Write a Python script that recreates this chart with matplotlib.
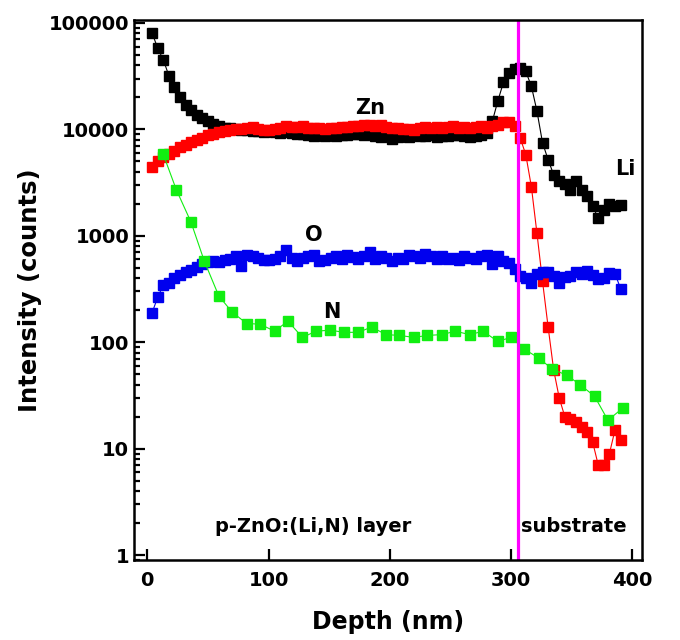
import matplotlib
matplotlib.use('Agg')
import matplotlib.pyplot as plt
from matplotlib.ticker import FixedLocator, LogLocator, NullFormatter, FuncFormatter

# depth grid of the Li, Zn, O profiles (nm)
depth = [4.0, 8.6, 13.2, 17.8, 22.4, 27.0, 31.6, 36.2, 40.8, 45.4,
         50.0, 54.6, 59.2, 63.8, 68.4, 73.0, 77.6, 82.2, 86.8, 91.4,
         96.0, 100.6, 105.2, 109.8, 114.4, 119.0, 123.6, 128.2, 132.8, 137.4,
         142.0, 146.6, 151.2, 155.8, 160.4, 165.0, 169.6, 174.2, 178.8, 183.4,
         188.0, 192.6, 197.2, 201.8, 206.4, 211.0, 215.6, 220.2, 224.8, 229.4,
         234.0, 238.6, 243.2, 247.8, 252.4, 257.0, 261.6, 266.2, 270.8, 275.4,
         280.0, 284.6, 289.2, 293.8, 298.4, 303.0, 307.6, 312.2, 316.8, 321.4,
         326.0, 330.6, 335.2, 339.8, 344.4, 349.0, 353.6, 358.2, 362.8, 367.4,
         372.0, 376.6, 381.2, 385.8, 390.4]

li = [80000, 58000, 45000, 32000, 25000, 20000, 17000, 15200, 13800, 12800,
      11900, 11200, 10800, 10400, 10200, 10000, 9900, 9800, 9700, 9600,
      9500, 9700, 9400, 9300, 9500, 9200, 9000, 9100, 8800, 8600,
      8900, 8700, 8800, 8600, 8900, 8800, 9000, 9100, 8800, 9000,
      8700, 8500, 8600, 8200, 8400, 8700, 8500, 8800, 8600, 8700,
      8900, 8500, 8700, 8600, 8800, 8900, 8700, 8500, 8700, 8900,
      9200, 11900, 18600, 27700, 33700, 36600, 37900, 35000, 25500, 14900,
      7500, 5200, 3750, 3300, 3060, 2700, 3300, 2700, 2350, 1900,
      1460, 1730, 1980, 1900, 1950]

zn = [4400, 5000, 5500, 5900, 6300, 6800, 7200, 7600, 7900, 8300,
      8800, 9100, 9400, 9600, 9800, 10000, 10100, 10200, 10500, 10100,
      9800, 9900, 10100, 10400, 10700, 10600, 10500, 10700, 10400, 10200,
      10300, 10000, 10200, 10400, 10600, 10500, 10800, 10700, 10900, 11000,
      10800, 10900, 10600, 10400, 10200, 10000, 10100, 9900, 10300, 10600,
      10400, 10500, 10300, 10500, 10700, 10400, 10600, 10300, 10500, 10700,
      10400, 10800, 11000, 11800, 11700, 10800, 8300, 5800, 2900, 1060,
      375, 140, 55, 30, 20, 19, 18, 16, 14.5, 11.5,
      7, 7, 9, 15, 12]

o = [190, 265, 345, 360, 400, 425, 460, 480, 510, 540,
     570, 580, 570, 590, 600, 650, 520, 660, 650, 620,
     590, 590, 600, 640, 740, 620, 580, 620, 650, 660,
     580, 590, 620, 640, 600, 660, 630, 600, 650, 700,
     610, 640, 620, 580, 620, 600, 660, 640, 620, 680,
     650, 610, 640, 600, 620, 590, 650, 620, 600, 640,
     660, 540, 650, 580, 560, 490, 420, 400, 360, 440,
     460, 460, 420, 360, 410, 420, 460, 440, 470, 430,
     395, 400, 450, 440, 320]

# N was sampled on a coarser grid
n_depth = [13, 24, 36, 47, 59, 70, 82, 93, 105, 116, 128, 139, 151, 162, 174,
           185, 197, 208, 220, 231, 243, 254, 266, 277, 289, 300, 311, 323,
           334, 346, 357, 369, 380, 392]
n = [5900, 2700, 1350, 580, 272, 192, 150, 148, 127, 158, 111, 127, 130, 124,
     124, 139, 118, 116, 111, 116, 118, 127, 118, 127, 102, 111, 86, 71,
     56, 49, 40, 31, 18.5, 24]

interface = 306

plt.rcParams['font.family'] = ['DejaVu Sans']
plt.rcParams['font.weight'] = 'bold'

fig = plt.figure(figsize=(6.8, 6.4), dpi=100)
ax = fig.add_axes([0.197, 0.125, 0.747, 0.844])

ax.plot(depth, li, 's-', color='black', ms=6.5, lw=0.8)
ax.plot(depth, zn, 's-', color='red', mec='red', ms=6.5, lw=0.8)
ax.plot(depth, o, 's-', color='#0000ee', ms=6.5, lw=0.8)
ax.plot(n_depth, n, 's', color='#11ee11', ms=6.5, ls='-', lw=0.8)
ax.axvline(interface, color='#ff00ff', lw=2.3)

ax.set_yscale('log')
ax.set_xlim(-11, 408)
ax.set_ylim(0.9, 1.07e5)

ax.xaxis.set_major_locator(FixedLocator([0, 100, 200, 300, 400]))
ax.yaxis.set_major_locator(LogLocator(base=10))
ax.yaxis.set_minor_locator(LogLocator(base=10, subs=range(2, 10)))
ax.yaxis.set_minor_formatter(NullFormatter())
ax.yaxis.set_major_formatter(FuncFormatter(lambda v, p: '%d' % round(v)))

ax.tick_params(which='both', direction='in', labelsize=14, width=1.6)
ax.tick_params(which='major', length=8)
ax.tick_params(which='minor', length=4.5)
ax.tick_params(axis='x', pad=8)
for s in ax.spines.values():
    s.set_linewidth(1.8)

ax.set_xlabel('Depth (nm)', fontsize=17, fontweight='bold', labelpad=14)
ax.set_ylabel('Intensity (counts)', fontsize=17.5, fontweight='bold', labelpad=5)

ax.text(184, 16000, 'Zn', fontsize=15, ha='center', va='center')
ax.text(394, 4200, 'Li', fontsize=15, ha='center', va='center')
ax.text(137, 1020, 'O', fontsize=15, ha='center', va='center')
ax.text(152, 192, 'N', fontsize=15, ha='center', va='center')
ax.text(137, 1.84, 'p-ZnO:(Li,N) layer', fontsize=14, ha='center', va='center')
ax.text(352, 1.84, 'substrate', fontsize=14, ha='center', va='center')

fig.savefig('out.png', dpi=100)
